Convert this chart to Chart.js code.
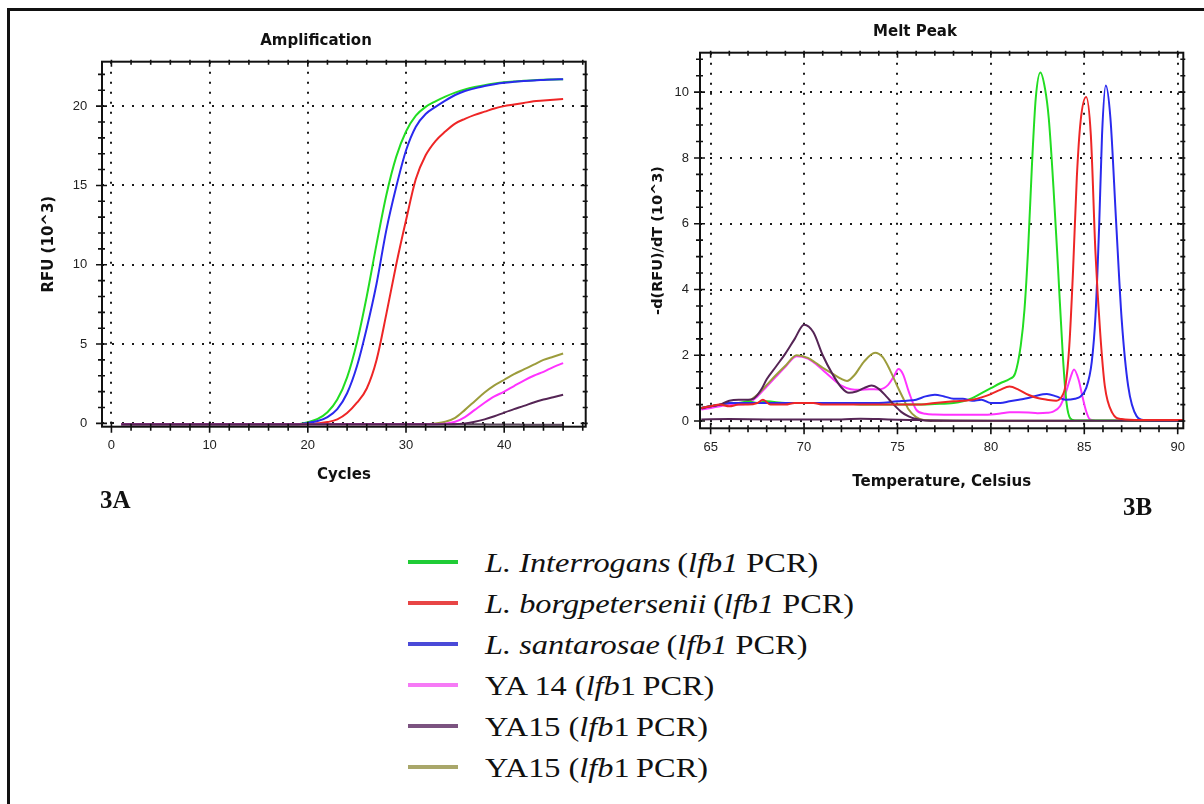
<!DOCTYPE html>
<html>
<head>
<meta charset="utf-8">
<script src="https://cdn.jsdelivr.net/npm/chart.js@4/dist/chart.umd.min.js"></script>
<style>
html,body{margin:0;padding:0;background:#fff;}
body{width:1204px;height:804px;position:relative;overflow:hidden;}
#frame{position:absolute;left:7px;top:8px;width:1300px;height:900px;border-top:3px solid #111;border-left:3px solid #111;}
#amp{position:absolute;left:30px;top:0;}
#melt{position:absolute;left:630px;top:0;}
.panel{position:absolute;font-family:"Liberation Serif";font-weight:bold;font-size:25px;line-height:25px;color:#111;}
#legend{position:absolute;left:408px;top:541px;}
.row{position:relative;height:41px;}
.sw{position:absolute;left:0;top:19px;width:50px;height:4px;}
.tx{position:absolute;left:77px;top:1px;height:41px;line-height:41px;white-space:nowrap;font-family:"Liberation Serif";font-size:28px;color:#111;transform:scaleX(1.155);transform-origin:0 50%;}
</style>
</head>
<body>
<div id="frame"></div>
<canvas id="amp" width="572" height="500"></canvas>
<canvas id="melt" width="570" height="500"></canvas>
<div class="panel" style="left:100px;top:487px;">3A</div>
<div class="panel" style="left:1123px;top:494px;">3B</div>
<div id="legend"></div>
<script>
// ---------- Series names & colours ----------
const seriesNames = ['L. Interrogans (lfb1 PCR)','L. borgpetersenii (lfb1 PCR)','L. santarosae (lfb1 PCR)','YA 14 (lfb1 PCR)','YA15 (lfb1 PCR)','YA15 (lfb1 PCR)'];
const lineColors = ['#22dd22','#ee2626','#2a2aee','#ff33ff','#552555','#9c9c3c'];
const legendColors = ['#20cc36','#e84545','#4a4ad8','#f67af6','#7b5380','#a9a76a'];
const legendHtml = [
  '<i>L. Interrogans</i>\u2009(<i>lfb1</i> PCR)',
  '<i>L. borgpetersenii</i>\u2009(<i>lfb1</i> PCR)',
  '<i>L. santarosae</i>\u2009(<i>lfb1</i> PCR)',
  'YA 14 (<i>lfb</i>1\u2009PCR)',
  'YA15 (<i>lfb</i>1\u2009PCR)',
  'YA15 (<i>lfb</i>1\u2009PCR)'
];
const ntcColor = '#5e4a5e';

// ---------- Amplification data ----------
const cycles = [1,2,3,4,5,6,7,8,9,10,11,12,13,14,15,16,17,18,19,20,21,22,23,24,25,26,27,28,29,30,31,32,33,34,35,36,37,38,39,40,41,42,43,44,45,46];
const ampGreen = [-0.05,-0.05,-0.05,-0.05,-0.05,-0.05,-0.05,-0.05,-0.05,-0.05,-0.05,-0.05,-0.05,-0.05,-0.05,-0.05,-0.05,-0.05,-0.05,
  0.08,0.28,0.7,1.5,2.9,5.1,8.0,11.3,14.4,16.8,18.4,19.4,19.95,20.3,20.6,20.85,21.05,21.2,21.32,21.42,21.5,21.55,21.6,21.63,21.66,21.68,21.7];
const ampRed = [-0.05,-0.05,-0.05,-0.05,-0.05,-0.05,-0.05,-0.05,-0.05,-0.05,-0.05,-0.05,-0.05,-0.05,-0.05,-0.05,-0.05,-0.05,-0.05,
  -0.05,0.0,0.08,0.25,0.65,1.3,2.2,4.0,6.9,10.0,12.8,15.4,16.9,17.8,18.4,18.9,19.2,19.45,19.65,19.85,20.0,20.1,20.2,20.3,20.35,20.4,20.45];
const ampBlue = [-0.05,-0.05,-0.05,-0.05,-0.05,-0.05,-0.05,-0.05,-0.05,-0.05,-0.05,-0.05,-0.05,-0.05,-0.05,-0.05,-0.05,-0.05,-0.05,
  0.03,0.15,0.4,0.9,1.9,3.6,6.0,8.8,12.2,14.9,17.2,18.7,19.5,19.95,20.35,20.7,20.95,21.12,21.27,21.38,21.47,21.53,21.58,21.62,21.65,21.68,21.7];
const ampPink = [-0.05,-0.05,-0.05,-0.05,-0.05,-0.05,-0.05,-0.05,-0.05,-0.05,-0.05,-0.05,-0.05,-0.05,-0.05,-0.05,-0.05,-0.05,-0.05,-0.05,
  -0.05,-0.05,-0.05,-0.05,-0.05,-0.05,-0.05,-0.05,-0.05,-0.05,-0.05,-0.05,-0.05,
  -0.02,0.1,0.4,0.85,1.3,1.7,2.0,2.35,2.7,3.0,3.25,3.55,3.8];
const ampPurple = [-0.05,-0.05,-0.05,-0.05,-0.05,-0.05,-0.05,-0.05,-0.05,-0.05,-0.05,-0.05,-0.05,-0.05,-0.05,-0.05,-0.05,-0.05,-0.05,-0.05,
  -0.05,-0.05,-0.05,-0.05,-0.05,-0.05,-0.05,-0.05,-0.05,-0.05,-0.05,-0.05,-0.05,-0.05,-0.05,
  0.0,0.1,0.25,0.45,0.68,0.9,1.1,1.32,1.5,1.65,1.8];
const ampOlive = [-0.05,-0.05,-0.05,-0.05,-0.05,-0.05,-0.05,-0.05,-0.05,-0.05,-0.05,-0.05,-0.05,-0.05,-0.05,-0.05,-0.05,-0.05,-0.05,-0.05,
  -0.05,-0.05,-0.05,-0.05,-0.05,-0.05,-0.05,-0.05,-0.05,-0.05,-0.05,-0.05,
  0.0,0.1,0.35,0.85,1.4,1.95,2.4,2.75,3.1,3.4,3.7,4.0,4.2,4.4];
const ampNtc = [-0.05,-0.05,-0.05,-0.05,-0.05,-0.05,-0.05,-0.05,-0.05,-0.05,-0.05,-0.05,-0.05,-0.05,-0.05,-0.05,-0.05,-0.05,-0.05,-0.05,
  -0.05,-0.05,-0.05,-0.05,-0.05,-0.05,-0.05,-0.05,-0.05,-0.05,-0.05,-0.05,-0.05,-0.05,-0.05,
  -0.05,-0.06,-0.06,-0.07,-0.07,-0.07,-0.08,-0.08,-0.08,-0.08,-0.08];

// ---------- Melt peak data (temperature, -dRFU/dT) ----------
const meltGreenT = [64.5,65,65.5,66,66.5,67,67.5,68,69,70,71,72,73,74,75,76,77,78,78.5,79,79.5,80,80.5,81,81.3,81.6,81.8,82.0,82.2,82.4,82.65,82.9,83.1,83.35,83.6,83.85,84.05,84.25,84.5,85,86,87,88,89,90,90.5];
const meltGreenV = [0.4,0.45,0.5,0.55,0.55,0.6,0.55,0.6,0.55,0.55,0.55,0.55,0.5,0.5,0.5,0.5,0.52,0.55,0.6,0.7,0.85,1.0,1.15,1.28,1.45,2.3,3.4,5.3,7.8,9.8,10.6,10.1,9.2,7.1,4.6,2.0,0.55,0.08,0.02,0.02,0.02,0.02,0.02,0.02,0.02,0.02];
const meltRedT = [64.5,65,65.5,66,66.5,67,67.5,67.8,68.2,69,69.5,70,70.5,71,72,73,74,75,76,77,78,79,79.5,80,80.5,81,81.5,82,82.5,83,83.5,83.8,84.0,84.2,84.4,84.6,84.8,85.1,85.35,85.6,85.85,86.1,86.5,87,88,89,90,90.5];
const meltRedV = [0.4,0.45,0.5,0.45,0.5,0.5,0.55,0.65,0.5,0.5,0.55,0.55,0.55,0.5,0.5,0.5,0.5,0.5,0.5,0.55,0.6,0.65,0.72,0.82,0.95,1.05,0.95,0.8,0.7,0.65,0.62,0.75,1.1,2.3,4.6,7.4,9.1,9.85,8.7,5.1,2.7,1.06,0.25,0.06,0.03,0.03,0.03,0.03];
const meltBlueT = [64.5,65,65.5,66,67,68,69,70,71,72,73,74,75,75.5,76,76.5,77,77.5,78,78.5,79,79.5,80,80.5,81,81.5,82,82.5,83,83.5,84,84.5,84.8,85.1,85.4,85.6,85.8,85.95,86.15,86.4,86.7,87.0,87.35,87.8,88.2,89,90,90.5];
const meltBlueV = [0.4,0.45,0.5,0.55,0.55,0.55,0.55,0.55,0.55,0.55,0.55,0.55,0.6,0.62,0.65,0.75,0.8,0.75,0.68,0.68,0.62,0.65,0.55,0.55,0.6,0.65,0.7,0.78,0.82,0.75,0.65,0.68,0.75,1.0,1.8,3.2,6.0,8.7,10.2,9.2,6.1,3.1,1.06,0.15,0.03,0.02,0.02,0.02];
const meltPinkT = [64.5,65,65.5,66,66.5,67,67.5,68,68.5,69,69.6,70.2,70.6,71,71.5,72,72.5,73,73.5,74,74.5,74.8,75.05,75.3,75.6,76,76.5,77,78,79,80,80.5,81,81.5,82,82.5,83,83.3,83.7,84.0,84.25,84.45,84.7,84.9,85.1,85.3,85.6,86,88,90,90.5];
const meltPinkV = [0.35,0.4,0.45,0.5,0.5,0.55,0.75,1.05,1.35,1.65,1.97,1.9,1.75,1.55,1.3,1.08,0.97,0.95,0.97,0.96,1.1,1.35,1.58,1.42,0.9,0.35,0.22,0.2,0.19,0.19,0.2,0.23,0.27,0.27,0.26,0.24,0.25,0.28,0.45,0.85,1.3,1.57,1.25,0.75,0.3,0.05,0.01,0.01,0.01,0.01,0.01];
const meltPurpleT = [64.5,65,65.5,66,66.5,67,67.3,67.7,68,68.5,69,69.5,70,70.5,71,71.5,72,72.4,72.8,73.2,73.6,74,74.4,74.8,75.2,75.6,76,76.5,77,78,80,85,90,90.5];
const meltPurpleV = [0.38,0.45,0.5,0.62,0.65,0.65,0.68,0.95,1.27,1.66,2.05,2.5,2.93,2.7,2.0,1.45,1.02,0.86,0.9,1.0,1.08,0.98,0.75,0.5,0.28,0.14,0.06,0.02,0.01,0.01,0.01,0.01,0.01,0.01];
const meltOliveT = [64.5,65,65.5,66,66.5,67,67.5,68,68.5,69,69.6,70.2,70.6,71,71.5,72,72.3,72.7,73.2,73.8,74.2,74.6,75.0,75.3,75.6,76.0,76.4,77,78,80,85,90,90.5];
const meltOliveV = [0.4,0.45,0.5,0.55,0.55,0.6,0.8,1.1,1.4,1.68,2.0,1.92,1.78,1.62,1.45,1.28,1.22,1.4,1.8,2.08,1.95,1.55,1.05,0.7,0.35,0.12,0.03,0.01,0.01,0.01,0.01,0.01,0.01];
const meltNtcT = [64.5,66,68,70,72,73,74,75,76,78,80,85,90,90.5];
const meltNtcV = [0.05,0.06,0.05,0.05,0.05,0.07,0.06,0.04,0.03,0.01,0.0,0.0,0.0,0.0];

// ---------- Axis ticks ----------
const ampXTicks = [0,10,20,30,40];
const ampYTicks = [0,5,10,15,20];
const meltXTicks = [65,70,75,80,85,90];
const meltYTicks = [0,2,4,6,8,10];

// ---------- helpers ----------
const xy = (xs, ys) => xs.map((x, i) => ({x: x, y: ys[i]}));
const tickFont = {family: 'Liberation Sans', size: 13};
const titleFont = {family: 'DejaVu Sans', size: 15, weight: 'bold'};

const frameTicks = {
  id: 'frameTicks',
  afterDatasetsDraw(chart, args, o) {
    const {ctx, chartArea: a} = chart;
    const xs = chart.scales.x, ys = chart.scales.y;
    ctx.save();
    ctx.strokeStyle = '#111';
    ctx.lineWidth = 1.6;
    ctx.beginPath();
    const seg = (x1, y1, x2, y2) => { ctx.moveTo(x1, y1); ctx.lineTo(x2, y2); };
    const isMajor = (v, m) => Math.abs(v / m - Math.round(v / m)) < 1e-6;
    for (let k = Math.ceil(xs.min / o.xMinor); k * o.xMinor <= xs.max + 1e-9; k++) {
      const v = k * o.xMinor, maj = isMajor(v, o.xMajor);
      const px = xs.getPixelForValue(v);
      const out = maj ? 6 : 4, inn = maj ? 5 : 3;
      seg(px, a.bottom - inn, px, a.bottom + out);
      seg(px, a.top - 2, px, a.top + inn);
    }
    for (let k = Math.ceil(ys.min / o.yMinor); k * o.yMinor <= ys.max + 1e-9; k++) {
      const v = k * o.yMinor, maj = isMajor(v, o.yMajor);
      const py = ys.getPixelForValue(v);
      const out = maj ? 6 : 4, inn = maj ? 5 : 3;
      seg(a.left - out, py, a.left + inn, py);
      seg(a.right - inn, py, a.right + 2, py);
    }
    ctx.stroke();
    ctx.lineWidth = 2;
    ctx.strokeRect(a.left, a.top, a.right - a.left, a.bottom - a.top);
    ctx.restore();
  }
};

function lineDs(label, data, color, order) {
  return {label: label, data: data, borderColor: color, backgroundColor: color, borderWidth: 2,
          pointRadius: 0, fill: false, cubicInterpolationMode: 'monotone', order: order};
}

function axisCommon(ticksArr, min, max, tickPad, fitSize, horizontal, titleText, titlePad, tFont) {
  return {
    type: 'linear', min: min, max: max,
    afterBuildTicks: s => { s.ticks = ticksArr.map(v => ({value: v})); },
    afterFit: s => { if (horizontal) s.height = fitSize; else s.width = fitSize; },
    ticks: {font: tickFont, color: '#222', padding: tickPad, autoSkip: false, maxRotation: 0, minRotation: 0},
    grid: {color: '#1a1a1a', lineWidth: 2, drawTicks: false},
    border: {display: false, dash: [2, 8]},
    title: {display: true, text: titleText, font: tFont || titleFont, color: '#111', padding: titlePad}
  };
}

// ---------- Amplification chart ----------
new Chart(document.getElementById('amp'), {
  type: 'line',
  data: {
    datasets: [
      lineDs(seriesNames[0], xy(cycles, ampGreen), lineColors[0], 6),
      lineDs(seriesNames[1], xy(cycles, ampRed), lineColors[1], 5),
      lineDs(seriesNames[2], xy(cycles, ampBlue), lineColors[2], 4),
      lineDs(seriesNames[3], xy(cycles, ampPink), lineColors[3], 1),
      lineDs(seriesNames[4], xy(cycles, ampPurple), lineColors[4], 0),
      lineDs(seriesNames[5], xy(cycles, ampOlive), lineColors[5], 2),
      lineDs('NTC', xy(cycles, ampNtc), ntcColor, 3)
    ]
  },
  options: {
    responsive: false, devicePixelRatio: 1, animation: false,
    layout: {padding: {top: 32, left: 16.3, right: 16.3, bottom: 0}},
    plugins: {
      legend: {display: false}, tooltip: {enabled: false},
      title: {display: true, text: 'Amplification', font: titleFont, color: '#111', padding: {top: 0, bottom: 11.7}},
      frameTicks: {xMinor: 2, xMajor: 10, yMinor: 1, yMajor: 5}
    },
    scales: {
      x: axisCommon(ampXTicks, -0.96, 48.3, 10.5, 73.3, true, 'Cycles', {top: 0, bottom: 16}),
      y: axisCommon(ampYTicks, -0.21, 22.8, 14.7, 55.7, false, 'RFU (10^3)', {top: -5.7, bottom: 0})
    }
  },
  plugins: [frameTicks]
});

// ---------- Melt peak chart ----------
new Chart(document.getElementById('melt'), {
  type: 'line',
  data: {
    datasets: [
      lineDs(seriesNames[0], xy(meltGreenT, meltGreenV), lineColors[0], 3),
      lineDs(seriesNames[1], xy(meltRedT, meltRedV), lineColors[1], 0),
      lineDs(seriesNames[2], xy(meltBlueT, meltBlueV), lineColors[2], 2),
      lineDs(seriesNames[3], xy(meltPinkT, meltPinkV), lineColors[3], 5),
      lineDs(seriesNames[4], xy(meltPurpleT, meltPurpleV), lineColors[4], 1),
      lineDs(seriesNames[5], xy(meltOliveT, meltOliveV), lineColors[5], 4),
      lineDs('NTC', xy(meltNtcT, meltNtcV), lineColors[4], 6)
    ]
  },
  options: {
    responsive: false, devicePixelRatio: 1, animation: false,
    layout: {padding: {top: 23, left: 16.7, right: 16.7, bottom: 0}},
    plugins: {
      legend: {display: false}, tooltip: {enabled: false},
      title: {display: true, text: 'Melt Peak', font: titleFont, color: '#111', padding: {top: 0, bottom: 11.7}},
      frameTicks: {xMinor: 1, xMajor: 5, yMinor: 0.5, yMajor: 2}
    },
    scales: {
      x: axisCommon(meltXTicks, 64.43, 90.3, 11.6, 71.7, true, 'Temperature, Celsius', {top: 0, bottom: 9.3}),
      y: axisCommon(meltYTicks, -0.22, 11.2, 11, 53.3, false, '-d(RFU)/dT (10^3)', {top: 2.6, bottom: 0},
                    {family: 'DejaVu Sans', size: 14.5, weight: 'bold'})
    }
  },
  plugins: [frameTicks]
});

// ---------- Legend (HTML, mixed italic text) ----------
const legendEl = document.getElementById('legend');
legendHtml.forEach((h, i) => {
  const row = document.createElement('div');
  row.className = 'row';
  const sw = document.createElement('div');
  sw.className = 'sw';
  sw.style.background = legendColors[i];
  const tx = document.createElement('div');
  tx.className = 'tx';
  tx.innerHTML = h;
  row.appendChild(sw);
  row.appendChild(tx);
  legendEl.appendChild(row);
});
</script>
</body>
</html>
